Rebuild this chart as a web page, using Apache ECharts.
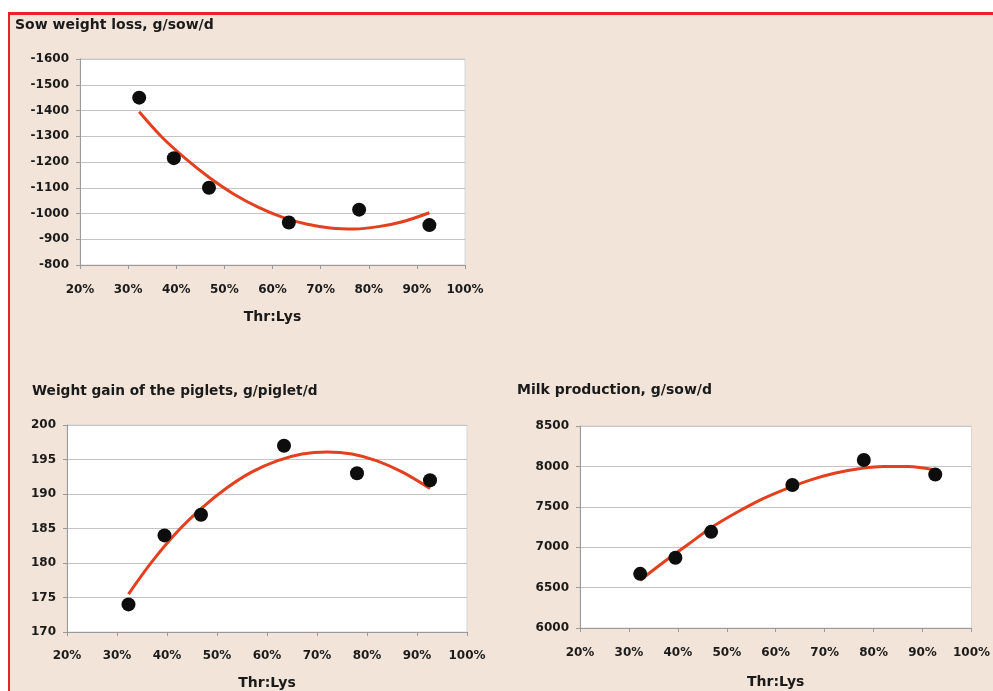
<!DOCTYPE html>
<html>
<head>
<meta charset="utf-8">
<script src="https://cdn.jsdelivr.net/npm/echarts@6/dist/echarts.min.js"></script>
<style>
  html, body { margin: 0; padding: 0; background: #ffffff; overflow: hidden; }
  #frame {
    position: absolute; left: 8px; top: 12px; width: 1000px; height: 700px;
    background: #f2e4d8; border-left: 2px solid #e8222c; border-top: 3px solid #e8222c;
  }
  #chart { position: absolute; left: 0; top: 0; width: 993px; height: 691px; }
</style>
</head>
<body>
<div id="frame"></div>
<div id="chart"></div>
<script>
// Thr:Lys ratio (%) of the six diets
const thrLys = [32.3, 39.5, 46.8, 63.4, 78.0, 92.6];
// Observed responses
const sowLoss = [-1450, -1215, -1100, -965, -1015, -955];
const pigletGain = [174, 184, 187, 197, 193, 192];
const milkYield = [6670, 6870, 7190, 7770, 8080, 7900];
// Fitted trend curves, sampled along the Thr:Lys range
const trendX = [32.3, 37, 42, 47, 52, 57, 62, 67, 72, 77, 82, 87, 92.6];
const sowLossTrend = [-1395, -1297, -1212, -1138, -1075, -1025, -986, -959, -944, -940, -949, -968, -1003];
const pigletTrend = [175.5, 180.2, 184.5, 188.0, 190.9, 193.2, 194.8, 195.8, 196.1, 195.8, 194.8, 193.2, 190.8];
const milkTrend = [6590, 6810, 7030, 7250, 7430, 7590, 7720, 7830, 7915, 7970, 8000, 8000, 7955];
// Axis settings
const xTicks = { min: 20, max: 100, interval: 10 };
const titles = ['Sow weight loss, g/sow/d', 'Weight gain of the piglets, g/piglet/d', 'Milk production, g/sow/d'];
const xName = 'Thr:Lys';

const FONT = 'DejaVu Sans';
const textColor = '#1a1a1a';
const pair = (xs, ys) => xs.map((x, i) => [x, ys[i]]);

function xAxis(idx, gap, margin) {
  return {
    type: 'value', gridIndex: idx, min: xTicks.min, max: xTicks.max, interval: xTicks.interval,
    name: xName, nameLocation: 'middle', nameGap: gap,
    nameTextStyle: { fontFamily: FONT, fontWeight: 'bold', fontSize: 14, color: textColor },
    axisLine: { show: true, lineStyle: { color: '#9a9a9a', width: 1 } },
    axisTick: { show: true, length: 4, lineStyle: { color: '#9a9a9a' } },
    axisLabel: { margin: margin, formatter: '{value}%', fontFamily: FONT, fontWeight: 'bold', fontSize: 12, color: textColor },
    splitLine: { show: false }
  };
}
function yAxis(idx, min, max, interval, inverse) {
  return {
    type: 'value', gridIndex: idx, min, max, interval, inverse: !!inverse,
    axisLine: { show: true, lineStyle: { color: '#9a9a9a', width: 1 } },
    axisTick: { show: true, length: 4, lineStyle: { color: '#9a9a9a' } },
    axisLabel: { margin: 11, formatter: v => String(v), fontFamily: FONT, fontWeight: 'bold', fontSize: 12, color: textColor },
    splitLine: { show: true, lineStyle: { color: '#c4c4c4', width: 1 } }
  };
}
function dots(idx, ys) {
  return {
    type: 'scatter', xAxisIndex: idx, yAxisIndex: idx, data: pair(thrLys, ys),
    symbol: 'circle', symbolSize: 14, itemStyle: { color: '#0d0d0d', opacity: 1 }, z: 3
  };
}
function trend(idx, ys) {
  return {
    type: 'line', xAxisIndex: idx, yAxisIndex: idx, data: pair(trendX, ys),
    smooth: 0.35, showSymbol: false, symbol: 'none',
    lineStyle: { color: '#e2401f', width: 3 }, z: 2
  };
}
const gridStyle = { show: true, backgroundColor: '#ffffff', borderColor: '#d6d6d6', borderWidth: 1 };
const titleStyle = { fontFamily: FONT, fontWeight: 'bold', fontSize: 14, color: textColor };

const chart = echarts.init(document.getElementById('chart'), null, { renderer: 'canvas' });
chart.setOption({
  backgroundColor: 'transparent',
  animation: false,
  title: [
    { text: titles[0], left: 15, top: 18, padding: 0, textStyle: titleStyle },
    { text: titles[1], left: 32, top: 384, padding: 0, textStyle: Object.assign({}, titleStyle, { fontSize: 13.7 }) },
    { text: titles[2], left: 517, top: 383, padding: 0, textStyle: titleStyle }
  ],
  grid: [
    Object.assign({ left: 80, top: 59, width: 385, height: 206 }, gridStyle),
    Object.assign({ left: 67, top: 425, width: 400, height: 207 }, gridStyle),
    Object.assign({ left: 580, top: 426, width: 393, height: 202 }, gridStyle)
  ],
  xAxis: [xAxis(0, 45, 19), xAxis(1, 44, 18), xAxis(2, 47, 19)],
  yAxis: [
    yAxis(0, -1600, -800, 100, true),
    yAxis(1, 170, 200, 5),
    yAxis(2, 6000, 8500, 500)
  ],
  series: [
    trend(0, sowLossTrend), dots(0, sowLoss),
    trend(1, pigletTrend), dots(1, pigletGain),
    trend(2, milkTrend), dots(2, milkYield)
  ]
});
</script>
</body>
</html>
